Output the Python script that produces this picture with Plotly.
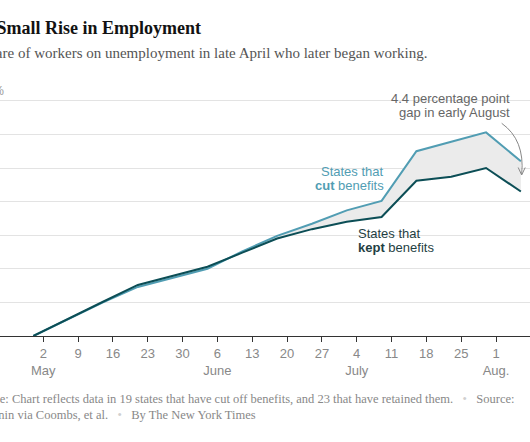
import plotly.graph_objects as go

# ---------------- data ----------------
dates = ["2021-04-30", "2021-05-07", "2021-05-14", "2021-05-21", "2021-05-28",
         "2021-06-04", "2021-06-11", "2021-06-18", "2021-06-25", "2021-07-02",
         "2021-07-09", "2021-07-16", "2021-07-23", "2021-07-30", "2021-08-06"]
cut_benefits = [0, 2.5, 5.0, 7.3, 8.7, 10.0, 12.6, 14.9, 16.7, 18.7, 20.1, 27.5, 28.9, 30.3, 26.0]
kept_benefits = [0, 2.6, 5.1, 7.6, 9.0, 10.3, 12.4, 14.5, 15.9, 17.0, 17.7, 23.1, 23.7, 25.0, 21.5]

tick_dates = ["2021-05-02", "2021-05-09", "2021-05-16", "2021-05-23", "2021-05-30",
              "2021-06-06", "2021-06-13", "2021-06-20", "2021-06-27", "2021-07-04",
              "2021-07-11", "2021-07-18", "2021-07-25", "2021-08-01"]
tick_labels = ["2<br>May", "9", "16", "23", "30", "6<br>June", "13", "20", "27",
               "4<br>July", "11", "18", "25", "1<br>Aug."]

W, H = 530, 442
TOP, BOTTOM = 95, 336          # plot area in pixels
PLOT_H = BOTTOM - TOP

CUT_COLOR = "#519db3"
KEPT_COLOR = "#0c4e56"


def px_x(p):
    return p / W


def px_y(p):
    return (BOTTOM - p) / PLOT_H


fig = go.Figure()

# shaded gap
fig.add_trace(go.Scatter(x=dates, y=kept_benefits, mode="lines",
                         line=dict(width=0, color=KEPT_COLOR), showlegend=False,
                         hoverinfo="skip"))
fig.add_trace(go.Scatter(x=dates, y=cut_benefits, mode="lines", fill="tonexty",
                         fillcolor="#ebebeb", line=dict(width=0, color=CUT_COLOR),
                         showlegend=False, hoverinfo="skip"))
# lines
fig.add_trace(go.Scatter(x=dates, y=cut_benefits, mode="lines", name="States that cut benefits",
                         line=dict(width=2, color=CUT_COLOR), showlegend=False))
fig.add_trace(go.Scatter(x=dates, y=kept_benefits, mode="lines", name="States that kept benefits",
                         line=dict(width=2, color=KEPT_COLOR), showlegend=False))

annotations = []


def add_text(text, x_px, y_px, anchor, size, color, family="Liberation Sans"):
    annotations.append(dict(text=text, xref="paper", yref="paper", x=0, xshift=x_px,
                            y=px_y(y_px), xanchor=anchor, yanchor="middle",
                            showarrow=False, font=dict(size=size, color=color, family=family)))


# title block (cropped at left edge like the reference)
add_text("<b>A Small Rise in Employment</b>", 203, 28, "right", 18, "#121212", "Liberation Serif")
add_text("Share of workers on unemployment in late April who later began working.",
         429, 53, "right", 15, "#555555", "Liberation Serif")
add_text("35%", 6, 91, "right", 12, "#999999")

# series labels
add_text("States that", 386, 171, "right", 13, CUT_COLOR)
add_text("<b>cut</b> benefits", 386, 185.5, "right", 13, CUT_COLOR)
add_text("States that", 356, 233, "left", 13, "#1f3f43")
add_text("<b>kept</b> benefits", 356, 247, "left", 13, "#1f3f43")

# gap annotation
add_text("4.4 percentage point", 512, 98.5, "right", 13, "#666666")
add_text("gap in early August", 512, 113, "right", 13, "#666666")

# footer
sp = "\u00a0\u00a0\u00a0"
dot = f"<span style='color:#d0d0d0'>{sp}•{sp}</span>"
add_text("Note: Chart reflects data in 19 states that have cut off benefits, and 23 that have retained them."
         + dot + "Source:", -21, 398.5, "left", 12.5, "#888888", "Liberation Serif")
add_text("Earnin via Coombs, et al." + dot + "By The New York Times",
         -21, 414.5, "left", 12.5, "#888888", "Liberation Serif")

# curved arrow
x0, y0 = px_x(501.7), px_y(123.3)
cx, cy = px_x(525), px_y(140)
x1, y1 = px_x(521.7), px_y(174)
shapes = [
    dict(type="path", xref="paper", yref="paper",
         path=f"M {x0},{y0} Q {cx},{cy} {x1},{y1}",
         line=dict(color="#888888", width=1)),
    dict(type="path", xref="paper", yref="paper",
         path=f"M {px_x(518.2)},{px_y(167.5)} L {x1},{px_y(175)} L {px_x(525.2)},{px_y(167.5)}",
         line=dict(color="#888888", width=1)),
]

fig.update_layout(
    width=W, height=H,
    margin=dict(l=0, r=0, t=TOP, b=H - BOTTOM, autoexpand=False),
    paper_bgcolor="white", plot_bgcolor="white",
    font=dict(family="Liberation Sans", size=13, color="#888888"),
    annotations=annotations, shapes=shapes,
    xaxis=dict(type="date", range=["2021-04-23 07:06", "2021-08-07 20:02"],
               tickvals=tick_dates, ticktext=tick_labels,
               showgrid=False, zeroline=False, showline=True, linecolor="#333333",
               linewidth=1, ticks="outside", ticklen=5, tickcolor="#333333",
               tickfont=dict(size=13, color="#888888"), automargin=False, fixedrange=True),
    yaxis=dict(range=[0, PLOT_H / 6.72], dtick=5, tick0=0, showgrid=True,
               gridcolor="#e3e3e3", gridwidth=1, zeroline=False, showticklabels=False,
               showline=False, automargin=False, fixedrange=True),
    hovermode=False,
)

fig.write_html("out.html", config={"displayModeBar": False},
               post_script="document.body.style.margin='0px';document.body.style.overflow='hidden';")
